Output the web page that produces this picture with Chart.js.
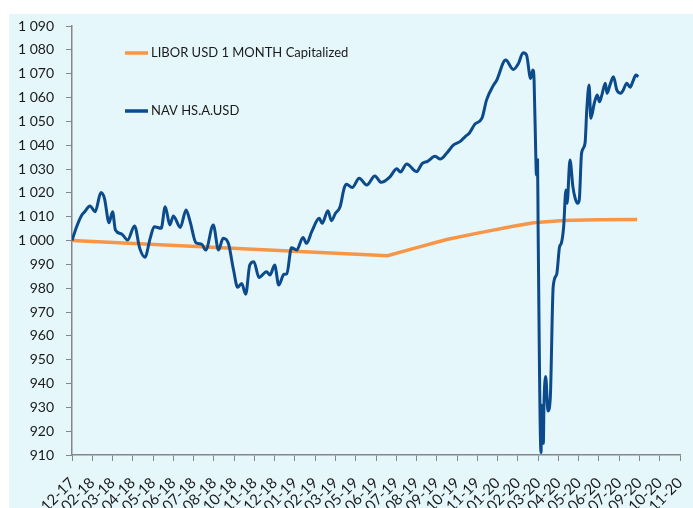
<!DOCTYPE html>
<html>
<head>
<meta charset="utf-8">
<script src="https://cdn.jsdelivr.net/npm/chart.js@4"></script>
<style>
  html, body { margin: 0; padding: 0; background: #fff; }
  #chart { display: block; }
</style>
</head>
<body>
<canvas id="chart" width="693" height="508"></canvas>
<script>
// x = days since 29-12-2017, one tick every 35 days
const tickLabels = ['12-17','02-18','03-18','04-18','05-18','06-18','07-18','08-18','10-18','11-18',
  '12-18','01-19','02-19','03-19','05-19','06-19','07-19','08-19','09-19','10-19',
  '11-19','01-20','02-20','03-20','04-20','05-20','06-20','07-20','09-20','10-20','11-20'];

const liborDays   = [0, 545, 589, 647, 705, 762, 797, 848, 906, 976];
const liborValues = [1000, 993.6, 996.6, 1000.4, 1003.3, 1006.0, 1007.4, 1008.4, 1008.7, 1008.8];

const navDays = [
  0, 8, 17, 22, 31, 40, 50, 56, 64, 70, 75, 86, 96, 108, 117, 126, 135, 142, 154, 161,
  169, 175, 187, 197, 204, 214, 224, 231, 244, 253, 261, 270, 279, 286, 293, 300, 307, 314, 323, 336,
  342, 350, 357, 366, 371, 379, 388, 399, 405, 414, 427, 432, 442, 448, 455, 463, 470, 474, 484, 496,
  509, 523, 534, 549, 561, 567, 578, 595, 605, 614, 627, 636, 647, 659, 670, 680, 686, 696, 708, 716,
  728, 733, 749, 762, 771, 779, 785, 792, 796, 798, 801, 802, 804, 805, 810, 811, 814, 815, 818, 822,
  826, 831, 837, 842, 845, 849, 853, 855, 860, 865, 869, 873, 876, 880, 886, 889, 893, 896, 902, 907,
  911, 915, 921, 924, 929, 935, 941, 948, 952, 958, 964, 969, 974, 978
];
const navValues = [
  1000, 1005.8, 1010.7, 1012.1, 1014.5, 1012.1, 1020.1, 1017.7, 1007.5, 1012.1, 1004.4, 1002.7, 1000.2, 1006.1, 996.7, 993.0, 1000.9, 1005.8, 1005.1, 1014.2,
  1006.5, 1010.3, 1005.5, 1012.8, 1007.9, 999.1, 998.5, 996.0, 1006.5, 996.0, 1000.9, 998.8, 987.6, 980.4, 982.0, 977.5, 989.7, 991.1, 984.5, 986.9,
  985.5, 989.7, 981.3, 985.8, 986.0, 997.0, 996.0, 1001.3, 998.8, 1003.7, 1009.3, 1007.2, 1012.5, 1008.3, 1011.4, 1014.2, 1021.9, 1023.6, 1022.2, 1026.1,
  1023.3, 1027.1, 1024.4, 1026.7, 1030.1, 1028.7, 1032.1, 1028.9, 1032.4, 1033.2, 1035.3, 1034.2, 1036.6, 1040.1, 1041.5, 1043.8, 1045.0, 1048.9, 1051.3, 1059.0,
  1065.2, 1067.0, 1075.7, 1071.8, 1074.3, 1078.8, 1077.8, 1068.0, 1071.5, 1067.3, 1035.2, 1027.5, 1033.8, 1004.4, 911, 930.9, 914.9, 930.3, 942.9, 928.5,
  934, 980.6, 985.8, 997.4, 998.8, 1005.5, 1021.2, 1015.6, 1033.8, 1022.6, 1017.7, 1015.6, 1017.0, 1036.6, 1040.8, 1054.8, 1065.2, 1051.3, 1057.6, 1061.0,
  1058.2, 1061.0, 1066.0, 1061.8, 1065.2, 1068.7, 1063.1, 1061.8, 1063.1, 1066.0, 1064.3, 1067.0, 1069.4, 1068.7
];

const FONT = 'Lato, "DejaVu Sans", sans-serif';
const AXIS_GREY = '#868686';

const toXY = (xs, ys) => xs.map((x, i) => ({ x, y: ys[i] }));

// light blue panel behind the whole chart
const panelBg = {
  id: 'panelBg',
  beforeDraw(chart) {
    const c = chart.ctx;
    c.save();
    c.fillStyle = '#e6f7fc';
    c.fillRect(9, 14, chart.width - 9, chart.height - 14);
    c.restore();
  }
};

// legend sits inside the plot, top left
const insideLegend = {
  id: 'insideLegend',
  afterDraw(chart) {
    const c = chart.ctx, a = chart.chartArea;
    const rows = [chart.data.datasets[1], chart.data.datasets[0]];
    c.save();
    c.font = '13px ' + FONT;
    c.textBaseline = 'middle';
    rows.forEach((ds, i) => {
      const y = a.top + 27 + i * 58;
      const x0 = a.left + 53;
      c.strokeStyle = ds.borderColor;
      c.lineWidth = 3.5;
      c.beginPath();
      c.moveTo(x0, y);
      c.lineTo(x0 + 23, y);
      c.stroke();
      c.fillStyle = '#1a1a1a';
      c.fillText(ds.label, x0 + 26, y);
    });
    c.restore();
  }
};

new Chart(document.getElementById('chart').getContext('2d'), {
  type: 'line',
  data: {
    datasets: [
      {
        label: 'NAV HS.A.USD',
        data: toXY(navDays, navValues),
        borderColor: '#0b4a8b',
        borderWidth: 3,
        pointRadius: 0,
        cubicInterpolationMode: 'monotone',
        order: 0
      },
      {
        label: 'LIBOR USD 1 MONTH Capitalized',
        data: toXY(liborDays, liborValues),
        borderColor: '#f79646',
        borderWidth: 3.5,
        pointRadius: 0,
        tension: 0,
        order: 1
      }
    ]
  },
  options: {
    responsive: false,
    animation: false,
    layout: { padding: { top: 26, right: 13, left: 0, bottom: 0 } },
    plugins: { legend: { display: false }, tooltip: { enabled: false } },
    scales: {
      x: {
        type: 'linear',
        min: 0,
        max: 1050,
        afterFit: s => { s.height = 53; s.paddingLeft = 0; s.paddingRight = 0; },
        grid: { drawOnChartArea: false, tickLength: 6, color: AXIS_GREY },
        border: { color: AXIS_GREY, width: 1.5 },
        ticks: {
          stepSize: 35,
          autoSkip: false,
          maxRotation: 45,
          minRotation: 45,
          padding: 13,
          color: '#1a1a1a',
          font: { family: FONT, size: 15 },
          callback: v => tickLabels[Math.round(v / 35)]
        }
      },
      y: {
        min: 910,
        max: 1090,
        afterFit: s => { s.width = 72; },
        grid: { drawOnChartArea: false, tickLength: 6, color: AXIS_GREY },
        border: { color: AXIS_GREY, width: 1.5 },
        ticks: {
          stepSize: 10,
          padding: 12,
          color: '#1a1a1a',
          font: { family: FONT, size: 14 },
          callback: v => {
            const s = String(v);
            return s.length > 3 ? s.slice(0, -3) + ' ' + s.slice(-3) : s;
          }
        }
      }
    }
  },
  plugins: [panelBg, insideLegend]
});
</script>
</body>
</html>
